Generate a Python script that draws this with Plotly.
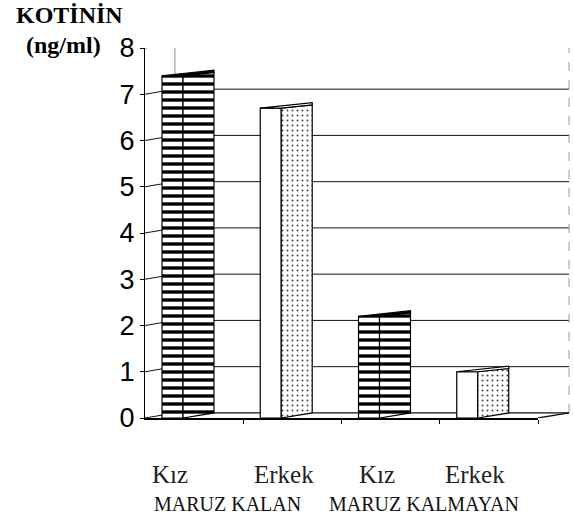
import plotly.graph_objects as go

# ---- data ----
categories = ["Kız", "Erkek", "Kız", "Erkek"]
groups = ["MARUZ KALAN", "MARUZ KALMAYAN"]
values = [7.4, 6.7, 2.2, 1.0]
y_ticks = [0, 1, 2, 3, 4, 5, 6, 7, 8]
front_patterns = ["-", "", "-", ""]
striped = [True, False, True, False]

# ---- 3D-like geometry (in axis units) ----
xs = [i + 0.5 for i in range(len(categories))]
FO, FW = -0.327, 0.214      # front face offset / width
SW = 0.315                  # side face width
DEPTH_Y = 0.11              # back wall rise (y units)
WALL_X0, WALL_X1 = 0.076, 1.079   # back wall in paper x
label_shift = [-24, -8, -14, -14]

fig = go.Figure()

# front faces
fig.add_trace(go.Bar(
    x=xs, y=values, width=FW, offset=FO,
    marker=dict(color="white", line=dict(color="black", width=1.2),
                pattern=dict(shape=front_patterns, fgcolor="black", bgcolor="white",
                             size=8, solidity=0.42, fillmode="replace")),
    showlegend=False, hoverinfo="skip"))

def side_poly(sel):
    px, py = [], []
    for x, v, s in zip(xs, values, striped):
        if s != sel:
            continue
        xm = x + FO + FW
        xr = xm + SW
        px += [xm, xr, xr, xm, xm, None]
        py += [0, DEPTH_Y, v + 0.07, v, 0, None]
    return px, py

px, py = side_poly(True)
fig.add_trace(go.Scatter(x=px, y=py, mode="lines", fill="toself",
                         line=dict(color="black", width=1.2),
                         fillpattern=dict(shape="-", fgcolor="black", bgcolor="white",
                                          size=8, solidity=0.42, fillmode="replace"),
                         showlegend=False, hoverinfo="skip"))
px, py = side_poly(False)
fig.add_trace(go.Scatter(x=px, y=py, mode="lines", fill="toself",
                         line=dict(color="black", width=1.2),
                         fillpattern=dict(shape=".", fgcolor="#444", bgcolor="white",
                                          size=5, solidity=0.12, fillmode="replace"),
                         showlegend=False, hoverinfo="skip"))

# top faces
for x, v, s in zip(xs, values, striped):
    xl = x + FO
    xm = xl + FW
    xr = xm + SW
    fig.add_trace(go.Scatter(
        x=[xl, xm, xr, xr, xl], y=[v, v, v + 0.07, v + 0.12, v],
        mode="lines", fill="toself",
        fillcolor="black" if s else "white",
        line=dict(color="black", width=1.2),
        showlegend=False, hoverinfo="skip"))

# back wall, gridlines and connectors
shapes = []
for t in y_ticks:
    shapes.append(dict(type="line", xref="paper", yref="y", layer="below",
                       x0=WALL_X0, x1=WALL_X1, y0=t + DEPTH_Y, y1=t + DEPTH_Y,
                       line=dict(color="#111", width=1.3 if t in (0, 8) else 1)))
    shapes.append(dict(type="line", xref="paper", yref="y", layer="below",
                       x0=0, x1=WALL_X0, y0=t, y1=t + DEPTH_Y,
                       line=dict(color="#111", width=1)))
shapes.append(dict(type="line", xref="paper", yref="y", layer="below",
                   x0=WALL_X0, x1=WALL_X0, y0=DEPTH_Y, y1=y_ticks[-1] + DEPTH_Y,
                   line=dict(color="#888", width=1)))
shapes.append(dict(type="line", xref="paper", yref="y", layer="below",
                   x0=WALL_X1, x1=WALL_X1, y0=DEPTH_Y, y1=y_ticks[-1] + DEPTH_Y,
                   line=dict(color="#999", width=1, dash="dash")))
shapes.append(dict(type="line", xref="paper", yref="y", layer="below",
                   x0=1, x1=WALL_X1, y0=0, y1=DEPTH_Y,
                   line=dict(color="#111", width=1.3)))

annotations = [
    dict(text="<b>KOTİNİN</b>", xref="paper", yref="paper", x=-0.333, y=1.089,
         xanchor="left", yanchor="middle", showarrow=False,
         font=dict(family="Liberation Serif", size=24, color="black")),
    dict(text="<b>(ng/ml)</b>", xref="paper", yref="paper", x=-0.307, y=1.008,
         xanchor="left", yanchor="middle", showarrow=False,
         font=dict(family="Liberation Serif", size=24, color="black")),
]
for x, c, sh in zip(xs, categories, label_shift):
    annotations.append(dict(text=c, xref="x", yref="paper", x=x, y=-0.154, xshift=sh,
                            xanchor="center", yanchor="middle", showarrow=False,
                            font=dict(family="Liberation Serif", size=25, color="#222")))
for i, g in enumerate(groups):
    annotations.append(dict(text=g, xref="x", yref="paper", x=2 * i + 1, y=-0.232, xshift=-16,
                            xanchor="center", yanchor="middle", showarrow=False,
                            font=dict(family="Liberation Serif", size=20, color="#111")))

fig.update_layout(
    width=574, height=531,
    margin=dict(l=145, r=36, t=48, b=113),
    paper_bgcolor="white", plot_bgcolor="white",
    shapes=shapes, annotations=annotations,
    xaxis=dict(range=[0, 4], showgrid=False, zeroline=False, showline=True,
               linecolor="black", linewidth=1.5, ticks="outside", ticklen=4,
               tickcolor="black", tickvals=[1, 2, 3, 4], showticklabels=False),
    yaxis=dict(range=[0, 8], showgrid=False, zeroline=False, showline=True,
               linecolor="black", linewidth=1.3, ticks="outside", ticklen=4,
               tickcolor="black", tickvals=y_ticks, automargin=False,
               tickfont=dict(family="Liberation Sans", size=27, color="black")),
)
fig.write_html("out.html", config={"displayModeBar": False},
               post_script="document.body.style.margin='0px';")
